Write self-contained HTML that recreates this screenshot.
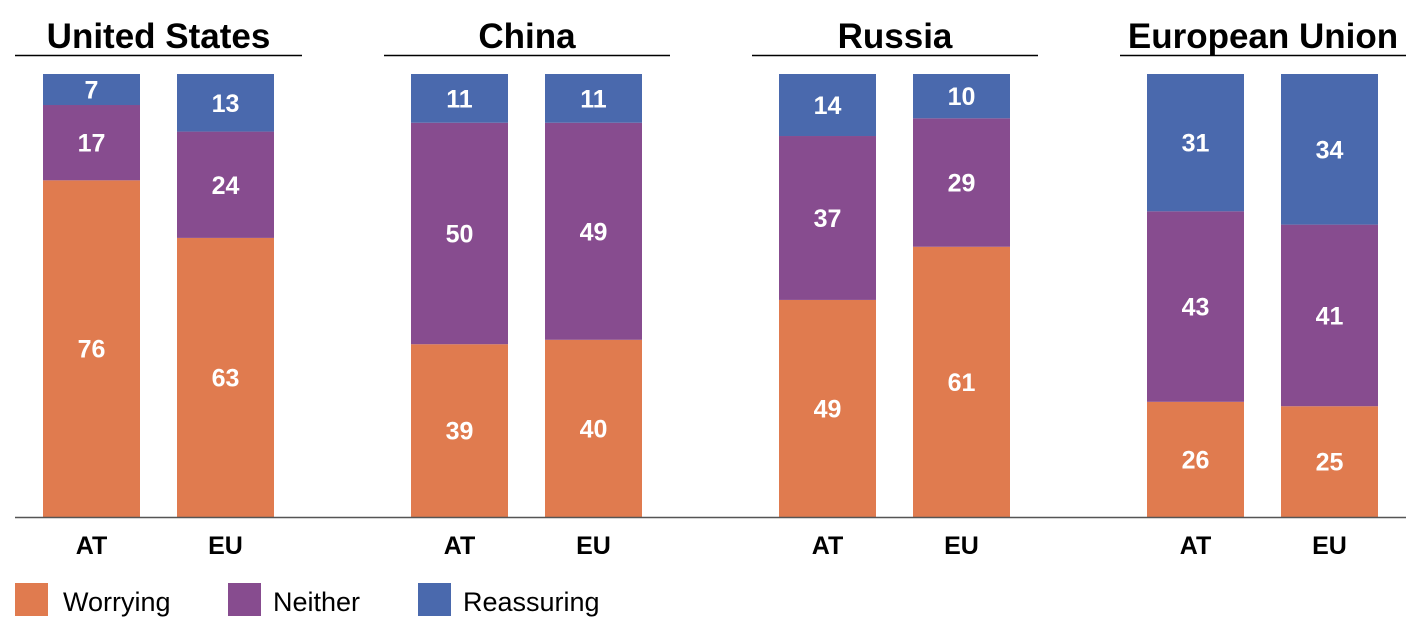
<!DOCTYPE html>
<html><head><meta charset="utf-8"><style>
html,body{margin:0;padding:0;background:#fff;}
svg{display:block;font-family:"Liberation Sans",sans-serif;}
.t{font-size:35px;font-weight:bold;fill:#000;text-anchor:middle;}
.v{font-size:25px;font-weight:bold;fill:#fff;text-anchor:middle;}
.c{font-size:25px;font-weight:bold;fill:#000;text-anchor:middle;}
.l{font-size:27px;fill:#000;}
</style></head><body>
<svg width="1426" height="628" viewBox="0 0 1426 628">
<g id="g"></g>
<line x1="15" y1="517.5" x2="1406" y2="517.5" stroke="#555" stroke-width="1.5"/>
<rect x="15" y="583" width="33" height="33" fill="#E07B4F"/><text class="l" x="63" y="611">Worrying</text>
<rect x="228" y="583" width="33" height="33" fill="#874C8F"/><text class="l" x="273" y="611">Neither</text>
<rect x="418" y="583" width="33" height="33" fill="#4A69AD"/><text class="l" x="463" y="611">Reassuring</text>
</svg>
<script>
var groups=[["United States",15,302,43,[[76,17,7],[63,24,13]]],["China",384,670,411,[[39,50,11],[40,49,11]]],["Russia",752,1038,779,[[49,37,14],[61,29,10]]],["European Union",1120,1406,1147,[[26,43,31],[25,41,34]]]];
var cols=["#E07B4F","#874C8F","#4A69AD"],s="",B=517,K=4.43;
groups.forEach(function(g){
 s+='<text class="t" x="'+(g[1]+g[2])/2+'" y="48">'+g[0]+'</text>';
 s+='<line x1="'+g[1]+'" y1="55.5" x2="'+g[2]+'" y2="55.5" stroke="#000" stroke-width="1.5"/>';
 g[4].forEach(function(d,i){
  var x=g[3]+i*134,y=B;
  d.forEach(function(v,j){var h=v*K;y-=h;
   s+='<rect x="'+x+'" y="'+y+'" width="97" height="'+h+'" fill="'+cols[j]+'"/>';
   s+='<text class="v" x="'+(x+48.5)+'" y="'+(y+h/2+9)+'">'+v+'</text>';});
  s+='<text class="c" x="'+(x+48.5)+'" y="554">'+(i?'EU':'AT')+'</text>';
 });
});
document.getElementById('g').innerHTML=s;
</script>
</body></html>
